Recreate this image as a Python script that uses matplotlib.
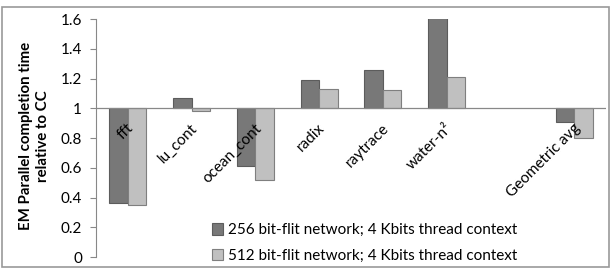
import numpy as np
import matplotlib
matplotlib.use("Agg")
import matplotlib.pyplot as plt
from matplotlib.patches import Rectangle

# benchmarks (one empty slot before the average, as in the original)
categories = ['fft', 'lu_cont', 'ocean_cont', 'radix', 'raytrace', 'water-n²', '', 'Geometric avg']
series_names = ['256 bit-flit network; 4 Kbits thread context',
                '512 bit-flit network; 4 Kbits thread context']
vals_256 = [0.36, 1.07, 0.61, 1.19, 1.26, 1.61, np.nan, 0.91]
vals_512 = [0.35, 0.98, 0.52, 1.13, 1.12, 1.21, np.nan, 0.80]
yticks = [0, 0.2, 0.4, 0.6, 0.8, 1, 1.2, 1.4, 1.6]
ytick_labels = ['0', '0.2', '0.4', '0.6', '0.8', '1', '1.2', '1.4', '1.6']

plt.rcParams['font.family'] = ['Lato', 'DejaVu Sans']

fig = plt.figure(figsize=(6.11, 2.68), dpi=100)
ax = fig.add_axes([0.157, 0.041, 0.835, 0.888])

x = np.arange(len(categories))
w = 0.29
base = 1.0
ax.bar(x - w / 2, np.array(vals_256) - base, width=w, bottom=base,
       color='#787878', edgecolor='#5c5c5c', linewidth=0.8, label=series_names[0])
ax.bar(x + w / 2, np.array(vals_512) - base, width=w, bottom=base,
       color='#c0c0c0', edgecolor='#7f7f7f', linewidth=0.8, label=series_names[1])

ax.set_xlim(-0.5, len(categories) - 0.5)
ax.set_ylim(0, 1.6)
ax.set_yticks(yticks)
ax.set_yticklabels(ytick_labels, fontsize=11)
ax.tick_params(axis='y', length=4, color='#888888', width=0.8, pad=6)
ax.set_xticks([])

for s in ['top', 'right', 'bottom']:
    ax.spines[s].set_visible(False)
ax.spines['left'].set_color('#888888')
ax.axhline(base, color='#888888', linewidth=0.9, zorder=3)

# category labels hang under the 1.0 line, rotated, ending near the slot centre
for i, lab in enumerate(categories):
    if lab:
        ax.text(i + 0.06, 0.88, lab, rotation=45, rotation_mode='anchor',
                ha='right', va='center', fontsize=11, zorder=4)

fig.text(34.5 / 611, 0.4925, 'EM Parallel completion time\nrelative to CC',
         rotation=90, ha='center', va='center', fontsize=10.8,
         fontweight='bold', linespacing=1.25)

ax.legend(loc='lower left', bbox_to_anchor=(0.2, -0.082), frameon=False,
          fontsize=11, handlelength=0.75, handleheight=0.75, handletextpad=0.3,
          labelspacing=0.75)

fig.patches.append(Rectangle((0.003, 0.004), 0.994, 0.97, transform=fig.transFigure,
                             fill=False, edgecolor='#999999', linewidth=1.2))

fig.savefig('out.png', dpi=100)
